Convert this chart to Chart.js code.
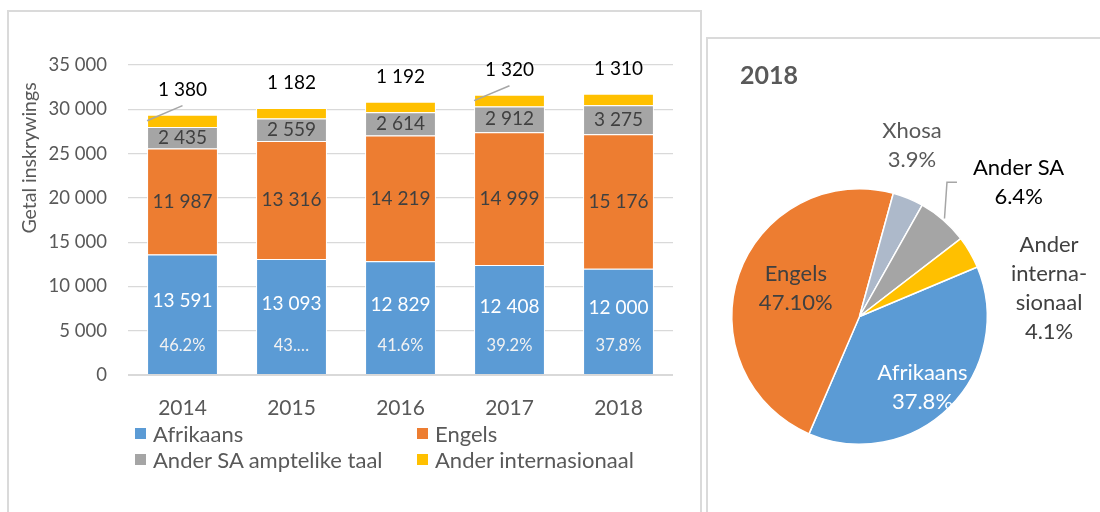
<!DOCTYPE html>
<html>
<head>
<meta charset="utf-8">
<script src="https://cdn.jsdelivr.net/npm/chart.js@4.4.1/dist/chart.umd.min.js"></script>
<style>
  html, body { margin: 0; padding: 0; background: #fff; }
  body { width: 1100px; height: 512px; position: relative; overflow: hidden; font-family: Lato, 'Open Sans', sans-serif; }
  .panel { position: absolute; border: 2px solid #dadada; box-sizing: border-box; }
  #panel-bar { left: 7px; top: 10px; width: 695px; height: 560px; }
  #panel-pie { left: 706px; top: 37px; width: 420px; height: 520px; border-right: none; }
  #bar-wrap { position: absolute; left: 0; top: 0; width: 700px; height: 512px; }
  #pie-wrap { position: absolute; left: 700px; top: 0; width: 400px; height: 512px; }
  #legend { position: absolute; left: 135px; top: 420px; display: grid; grid-template-columns: 282px auto; }
  #legend .item { display: flex; align-items: center; height: 26px; font-size: 22px; color: #595959; white-space: nowrap; }
  #legend .sw { width: 11px; height: 11px; margin-right: 7px; flex: none; }
</style>
</head>
<body>
<div class="panel" id="panel-bar"></div>
<div class="panel" id="panel-pie"></div>
<div id="bar-wrap"><canvas id="bar"></canvas></div>
<div id="pie-wrap"><canvas id="pie"></canvas></div>
<div id="legend"></div>

<script>
// ---- data ----------------------------------------------------------------
const YEARS = ['2014', '2015', '2016', '2017', '2018'];
const AFRIKAANS = [13591, 13093, 12829, 12408, 12000];
const ENGELS = [11987, 13316, 14219, 14999, 15176];
const ANDER_SA = [2435, 2559, 2614, 2912, 3275];
const ANDER_INT = [1380, 1182, 1192, 1320, 1310];
const AFRIKAANS_PCT = ['46.2%', '43.…', '41.6%', '39.2%', '37.8%'];
const SERIES_NAMES = ['Afrikaans', 'Engels', 'Ander SA amptelike taal', 'Ander internasionaal'];
const SERIES_COLORS = ['#5b9bd5', '#ed7d31', '#a5a5a5', '#ffc000'];
const Y_MIN = 0, Y_MAX = 35000, Y_STEP = 5000;

const PIE_TITLE = '2018';
const PIE_NAMES = [['Afrikaans'], ['Engels'], ['Xhosa'], ['Ander SA'], ['Ander', 'interna-', 'sionaal']];
const PIE_VALUES = [37.8, 47.8, 3.9, 6.4, 4.1];
const PIE_PCT_TEXT = ['37.8%', '47.10%', '3.9%', '6.4%', '4.1%'];
const PIE_COLORS = ['#5b9bd5', '#ed7d31', '#adb9ca', '#a5a5a5', '#ffc000'];

// ---- style ---------------------------------------------------------------
const FONT = 'Lato, "Open Sans", sans-serif';
const TEXT_GREY = '#595959';
const LABEL_DARK = '#404040';
Chart.defaults.font.family = FONT;
Chart.defaults.animation = false;

function fmtNum(n) {
  return String(n).replace(/\B(?=(\d{3})+(?!\d))/g, '\u00a0');
}

// legend (html, built from the series arrays)
const legendEl = document.getElementById('legend');
SERIES_NAMES.forEach(function (name, i) {
  const it = document.createElement('div');
  it.className = 'item';
  it.innerHTML = '<span class="sw" style="background:' + SERIES_COLORS[i] + '"></span>' + name;
  legendEl.appendChild(it);
});

// ---- bar chart labels ------------------------------------------------------
const barLabels = {
  id: 'barLabels',
  afterDatasetsDraw(chart) {
    const ctx = chart.ctx;
    ctx.save();
    ctx.textAlign = 'center';
    ctx.textBaseline = 'middle';
    chart.data.datasets.forEach(function (ds, di) {
      const meta = chart.getDatasetMeta(di);
      meta.data.forEach(function (bar, i) {
        const mid = (bar.y + bar.base) / 2;
        const txt = fmtNum(ds.data[i]);
        if (di === 0) {
          ctx.fillStyle = '#fff';
          ctx.font = '19px ' + FONT;
          ctx.fillText(txt, bar.x, mid - 13);
          ctx.font = '16.5px ' + FONT;
          ctx.fillStyle = '#f2f2f2';
          ctx.fillText(AFRIKAANS_PCT[i], bar.x, bar.base - 28);
        } else if (di === 1 || di === 2) {
          ctx.fillStyle = LABEL_DARK;
          ctx.font = '19px ' + FONT;
          ctx.fillText(txt, bar.x, mid);
        } else {
          const ly = bar.y - 25;
          ctx.fillStyle = '#000';
          ctx.font = '19px ' + FONT;
          ctx.fillText(txt, bar.x, ly);
          if (i === 0 || i === 3) {
            const left = bar.x - bar.width / 2;
            ctx.strokeStyle = '#a6a6a6';
            ctx.lineWidth = 1.5;
            ctx.beginPath();
            ctx.moveTo(left, mid);
            ctx.lineTo(bar.x, ly + 16);
            ctx.stroke();
          }
        }
      });
    });
    // y axis title
    ctx.translate(30, 158);
    ctx.rotate(-Math.PI / 2);
    ctx.fillStyle = TEXT_GREY;
    ctx.font = '19.5px ' + FONT;
    ctx.fillText('Getal inskrywings', 0, 0);
    ctx.restore();
  }
};

new Chart(document.getElementById('bar'), {
  type: 'bar',
  data: {
    labels: YEARS,
    datasets: [AFRIKAANS, ENGELS, ANDER_SA, ANDER_INT].map(function (vals, i) {
      return {
        label: SERIES_NAMES[i],
        data: vals,
        backgroundColor: SERIES_COLORS[i],
        borderColor: '#fff',
        borderWidth: 1,
        barPercentage: 0.65,
        categoryPercentage: 1
      };
    })
  },
  options: {
    responsive: true,
    maintainAspectRatio: false,
    layout: { padding: { left: 0, top: 65, right: 27, bottom: 0 } },
    plugins: { legend: { display: false }, tooltip: { enabled: false } },
    scales: {
      x: {
        stacked: true,
        grid: { display: false },
        border: { display: false },
        ticks: { color: TEXT_GREY, font: { size: 21 }, padding: 13 },
        afterFit(scale) { scale.height = 137; }
      },
      y: {
        stacked: true,
        min: Y_MIN, max: Y_MAX,
        border: { display: false },
        grid: {
          color: '#d9d9d9',
          drawTicks: false,
          lineWidth: function (c) { return c.tick && c.tick.value === 0 ? 2 : 1.2; }
        },
        ticks: {
          stepSize: Y_STEP,
          color: TEXT_GREY,
          font: { size: 18.5 },
          padding: 21,
          callback: function (v) { return fmtNum(v); }
        },
        afterFit(scale) { scale.width = 128; }
      }
    }
  },
  plugins: [barLabels]
});

// ---- pie chart -------------------------------------------------------------
// label placement relative to each slice: radius factor k, angle shift da (deg)
const PIE_LABEL_PLACE = [
  { k: 0.74, da: 3, color: '#fff' },
  { k: 0.545, da: 4.5, color: LABEL_DARK },
  { k: 1.40, da: -5.3, color: TEXT_GREY },
  { k: 1.63, da: 8.9, color: '#000', leader: true },
  { k: 1.50, da: 21.8, color: LABEL_DARK }
];

const pieLabels = {
  id: 'pieLabels',
  afterDatasetsDraw(chart) {
    const ctx = chart.ctx;
    const meta = chart.getDatasetMeta(0);
    ctx.save();
    // title
    ctx.fillStyle = TEXT_GREY;
    ctx.font = 'bold 25px ' + FONT;
    ctx.textAlign = 'left';
    ctx.textBaseline = 'middle';
    ctx.fillText(PIE_TITLE, 40, 76);

    ctx.textAlign = 'center';
    ctx.font = '22px ' + FONT;
    meta.data.forEach(function (arc, i) {
      const p = PIE_LABEL_PLACE[i];
      const midA = (arc.startAngle + arc.endAngle) / 2;
      const a = midA + p.da * Math.PI / 180;
      const R = arc.outerRadius;
      const cx = arc.x + Math.cos(a) * R * p.k;
      const cy = arc.y + Math.sin(a) * R * p.k;
      const lines = PIE_NAMES[i].concat([PIE_PCT_TEXT[i]]);
      const lh = 29;
      const y0 = cy - (lines.length - 1) * lh / 2;
      ctx.fillStyle = p.color;
      lines.forEach(function (t, j) { ctx.fillText(t, cx, y0 + j * lh); });
      if (p.leader) {
        const w = ctx.measureText(PIE_NAMES[i][0]).width;
        const labelLeft = cx - w / 2;
        const ly = y0 + lh / 2;
        ctx.strokeStyle = '#a6a6a6';
        ctx.lineWidth = 1.5;
        ctx.beginPath();
        ctx.moveTo(arc.x + Math.cos(midA) * (R + 2), arc.y + Math.sin(midA) * (R + 2));
        ctx.lineTo(labelLeft - 26, ly);
        ctx.lineTo(labelLeft - 16, ly);
        ctx.stroke();
      }
    });
    ctx.restore();
  }
};

new Chart(document.getElementById('pie'), {
  type: 'pie',
  data: {
    labels: PIE_NAMES.map(function (n) { return n.join(' '); }),
    datasets: [{
      data: PIE_VALUES,
      backgroundColor: PIE_COLORS,
      borderColor: '#fff',
      borderWidth: 1.5,
      hoverOffset: 0
    }]
  },
  options: {
    responsive: true,
    maintainAspectRatio: false,
    rotation: 67.2,
    layout: { padding: { left: 31, top: 188, right: 112, bottom: 67 } },
    plugins: { legend: { display: false }, tooltip: { enabled: false } }
  },
  plugins: [pieLabels]
});
</script>
</body>
</html>
